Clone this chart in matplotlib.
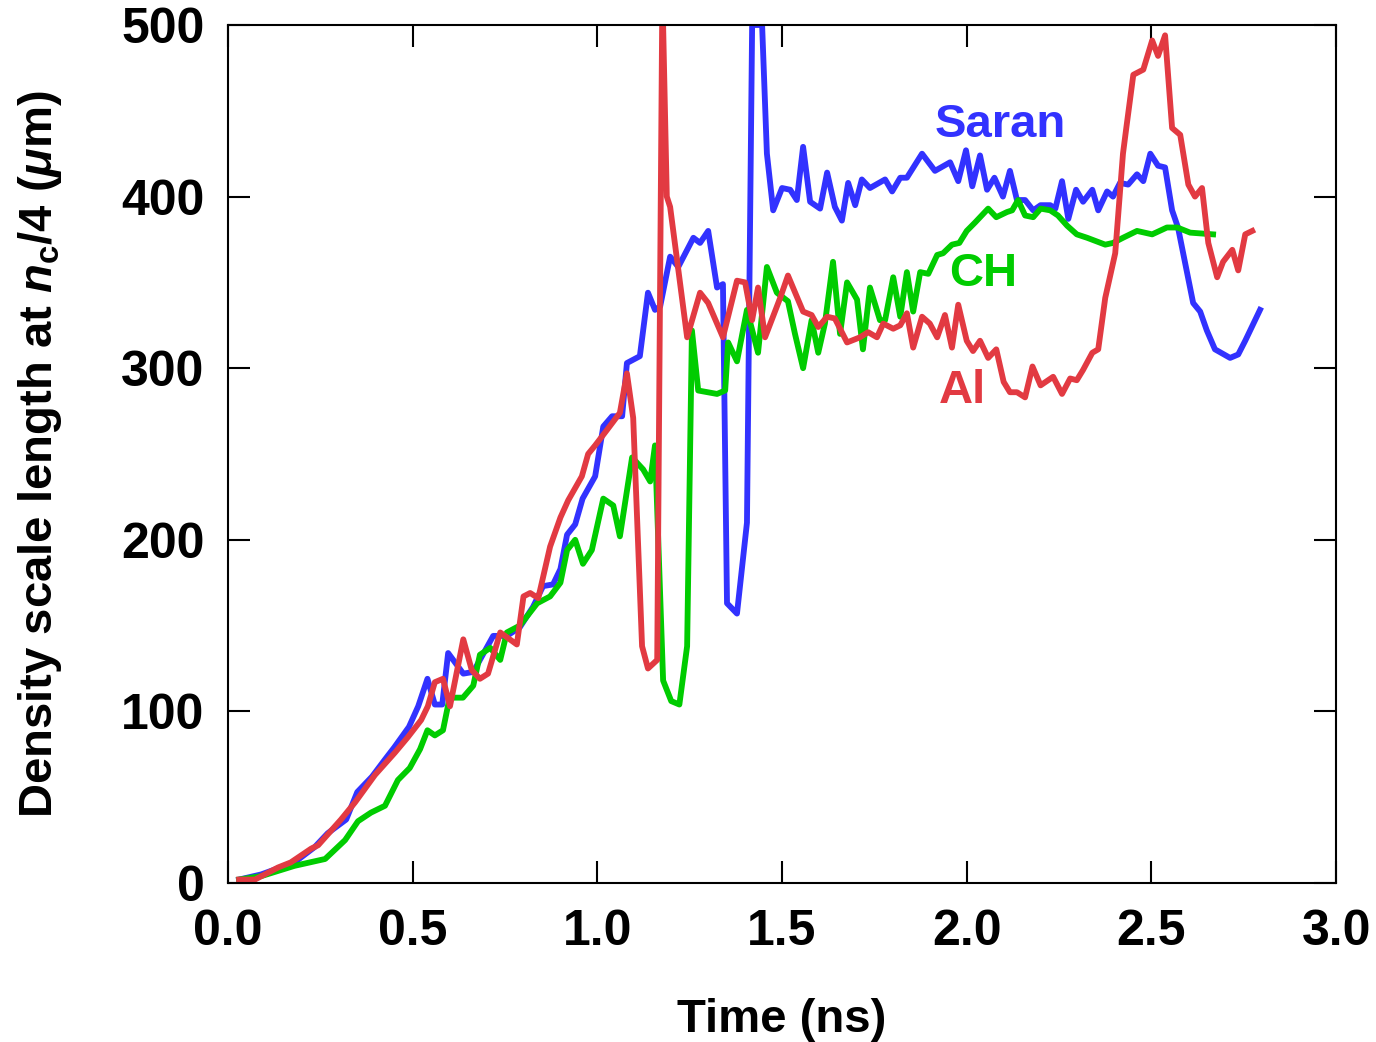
import numpy as np
import matplotlib
matplotlib.use("Agg")
import matplotlib.pyplot as plt

# fonts: bold Helvetica-like everywhere, including mathtext
plt.rcParams['font.family'] = ['Liberation Sans', 'DejaVu Sans']
plt.rcParams['font.weight'] = 'bold'
plt.rcParams['mathtext.fontset'] = 'custom'
plt.rcParams['mathtext.rm'] = 'Liberation Sans:bold'
plt.rcParams['mathtext.it'] = 'Liberation Sans:bold:italic'
plt.rcParams['mathtext.bf'] = 'Liberation Sans:bold'

# Saran (blue)
t_saran = [0.03, 0.09, 0.18, 0.235, 0.27, 0.32, 0.35, 0.39, 0.425, 0.45, 0.49, 0.515,
           0.54, 0.56, 0.58, 0.596, 0.637, 0.664, 0.718, 0.755, 0.79, 0.826, 0.853, 0.88,
           0.9, 0.918, 0.94, 0.96, 0.994, 1.016, 1.04, 1.067, 1.08, 1.115, 1.137, 1.156,
           1.17, 1.197, 1.219, 1.26, 1.278, 1.3, 1.324, 1.34, 1.351, 1.378, 1.405, 1.419,
           1.446, 1.459, 1.476, 1.5, 1.522, 1.54, 1.557, 1.576, 1.603, 1.622, 1.643, 1.662,
           1.679, 1.698, 1.716, 1.738, 1.779, 1.798, 1.82, 1.838, 1.879, 1.914, 1.955, 1.977,
           1.998, 2.015, 2.036, 2.055, 2.075, 2.098, 2.117, 2.136, 2.158, 2.18, 2.2, 2.226,
           2.24, 2.258, 2.275, 2.296, 2.315, 2.34, 2.356, 2.38, 2.396, 2.415, 2.437, 2.461,
           2.478, 2.497, 2.518, 2.537, 2.556, 2.572, 2.613, 2.632, 2.65, 2.672, 2.713, 2.735,
           2.754, 2.794]
v_saran = [2, 5, 12, 21, 29, 37, 53, 62, 72, 79, 91, 103,
           119, 104, 104, 134, 122, 123, 144, 144, 149, 161, 173, 174,
           183, 203, 209, 224, 237, 266, 272, 272, 303, 307, 344, 334,
           336, 365, 359, 376, 373, 380, 347, 349, 163, 157, 210, 500,
           500, 425, 392, 405, 404, 398, 429, 397, 393, 414, 394, 386,
           408, 395, 410, 405, 410, 403, 411, 411, 425, 415, 420, 409,
           427, 406, 424, 404, 411, 400, 415, 398, 398, 392, 395, 395,
           393, 409, 387, 404, 397, 404, 392, 403, 400, 408, 407, 413,
           409, 425, 418, 417, 392, 382, 338, 333, 322, 311, 306, 308,
           316, 334]

# CH (green)
t_ch = [0.03, 0.09, 0.18, 0.263, 0.317, 0.352, 0.387, 0.425, 0.46, 0.492, 0.52, 0.54,
        0.56, 0.582, 0.6, 0.636, 0.664, 0.682, 0.71, 0.737, 0.755, 0.79, 0.837, 0.872,
        0.9, 0.918, 0.94, 0.961, 0.985, 1.016, 1.043, 1.061, 1.094, 1.124, 1.143, 1.156,
        1.178, 1.2, 1.222, 1.243, 1.256, 1.273, 1.324, 1.346, 1.354, 1.378, 1.405, 1.435,
        1.459, 1.486, 1.516, 1.535, 1.557, 1.58, 1.598, 1.616, 1.638, 1.657, 1.676, 1.703,
        1.719, 1.738, 1.765, 1.779, 1.801, 1.82, 1.838, 1.855, 1.874, 1.896, 1.92, 1.936,
        1.96, 1.98, 2.0, 2.023, 2.058, 2.08, 2.109, 2.123, 2.139, 2.158, 2.18, 2.2,
        2.226, 2.247, 2.272, 2.298, 2.326, 2.375, 2.396, 2.423, 2.461, 2.502, 2.542, 2.57,
        2.605, 2.667]
v_ch = [2, 4, 10, 14, 25, 36, 41, 45, 60, 67, 78, 89,
        86, 89, 108, 108, 115, 133, 137, 130, 146, 150, 163, 167,
        175, 194, 200, 186, 194, 224, 220, 202, 248, 241, 234, 255,
        118, 106, 104, 138, 322, 287, 285, 287, 315, 304, 334, 309,
        359, 344, 339, 320, 300, 328, 309, 326, 362, 320, 350, 340,
        311, 347, 328, 328, 353, 330, 356, 333, 356, 355, 366, 367,
        372, 373, 380, 385, 393, 388, 391, 392, 398, 389, 388, 393,
        392, 389, 383, 378, 376, 372, 373, 376, 380, 378, 382, 382,
        379, 378]

# Al (red)
t_al = [0.03, 0.073, 0.135, 0.17, 0.225, 0.244, 0.306, 0.344, 0.398, 0.452, 0.487, 0.523,
        0.541, 0.56, 0.582, 0.601, 0.637, 0.66, 0.682, 0.704, 0.737, 0.782, 0.8, 0.818,
        0.84, 0.872, 0.9, 0.921, 0.958, 0.975, 0.994, 1.026, 1.061, 1.08, 1.097, 1.121,
        1.137, 1.162, 1.176, 1.188, 1.197, 1.243, 1.278, 1.3, 1.34, 1.378, 1.4, 1.419,
        1.435, 1.454, 1.495, 1.516, 1.557, 1.58, 1.598, 1.622, 1.643, 1.676, 1.711, 1.733,
        1.757, 1.774, 1.801, 1.82, 1.838, 1.855, 1.879, 1.9, 1.92, 1.941, 1.96, 1.977,
        2.0, 2.017, 2.036, 2.058, 2.08, 2.1, 2.117, 2.136, 2.158, 2.178, 2.2, 2.234,
        2.258, 2.28, 2.298, 2.315, 2.34, 2.356, 2.375, 2.402, 2.423, 2.432, 2.451, 2.478,
        2.502, 2.518, 2.537, 2.556, 2.578, 2.6, 2.618, 2.637, 2.654, 2.678, 2.694, 2.719,
        2.735, 2.754, 2.773]
v_al = [2, 2, 9, 12, 20, 22, 37, 47, 63, 76, 85, 95,
        103, 117, 119, 103, 142, 124, 119, 122, 146, 139, 167, 169,
        166, 196, 213, 223, 237, 250, 255, 264, 274, 297, 271, 138,
        125, 130, 520, 400, 394, 318, 344, 338, 318, 351, 350, 328,
        347, 318, 341, 354, 333, 331, 324, 330, 329, 315, 318, 321,
        318, 326, 323, 325, 332, 312, 330, 326, 318, 331, 312, 337,
        316, 310, 316, 306, 311, 292, 286, 286, 283, 301, 290, 295,
        285, 294, 293, 299, 309, 311, 341, 367, 425, 440, 471, 474,
        491, 482, 494, 440, 436, 407, 400, 405, 373, 353, 362, 369,
        357, 378, 380]

c_saran = '#3232ff'
c_ch = '#00cc00'
c_al = '#e23a42'

fig = plt.figure(figsize=(13.76, 10.42), dpi=100)
ax = fig.add_axes([0.1657, 0.1526, 0.8053, 0.8234])

ax.plot(t_saran, v_saran, color=c_saran, lw=4.2)
ax.plot(t_ch, v_ch, color=c_ch, lw=4.2)
ax.plot(t_al, v_al, color=c_al, lw=4.2)

ax.set_xlim(0, 3.0)
ax.set_ylim(0, 500)
ax.set_xticks([0.0, 0.5, 1.0, 1.5, 2.0, 2.5, 3.0])
ax.set_xticklabels(['0.0', '0.5', '1.0', '1.5', '2.0', '2.5', '3.0'])
ax.set_yticks([0, 100, 200, 300, 400, 500])

ax.tick_params(direction='in', length=16, width=1.5, labelsize=36,
               top=True, right=True)
ax.tick_params(axis='x', pad=19)
ax.tick_params(axis='y', pad=17)
for s in ax.spines.values():
    s.set_linewidth(1.5)

ax.set_xlabel('Time (ns)', fontsize=34, fontweight='bold')
ax.set_ylabel(r'Density scale length at $\it{n}_{\rm{c}}$/4 ($\mu$m)',
              fontsize=34, fontweight='bold')
ax.xaxis.set_label_coords(0.5, -0.134)
ax.yaxis.set_label_coords(-0.148, 0.5)

ax.text(2.09, 442, 'Saran', color=c_saran, fontsize=34, fontweight='bold',
        ha='center', va='center')
ax.text(2.044, 355, 'CH', color=c_ch, fontsize=34, fontweight='bold',
        ha='center', va='center')
ax.text(1.988, 287, 'Al', color=c_al, fontsize=34, fontweight='bold',
        ha='center', va='center')

fig.savefig('out.png', dpi=100)
